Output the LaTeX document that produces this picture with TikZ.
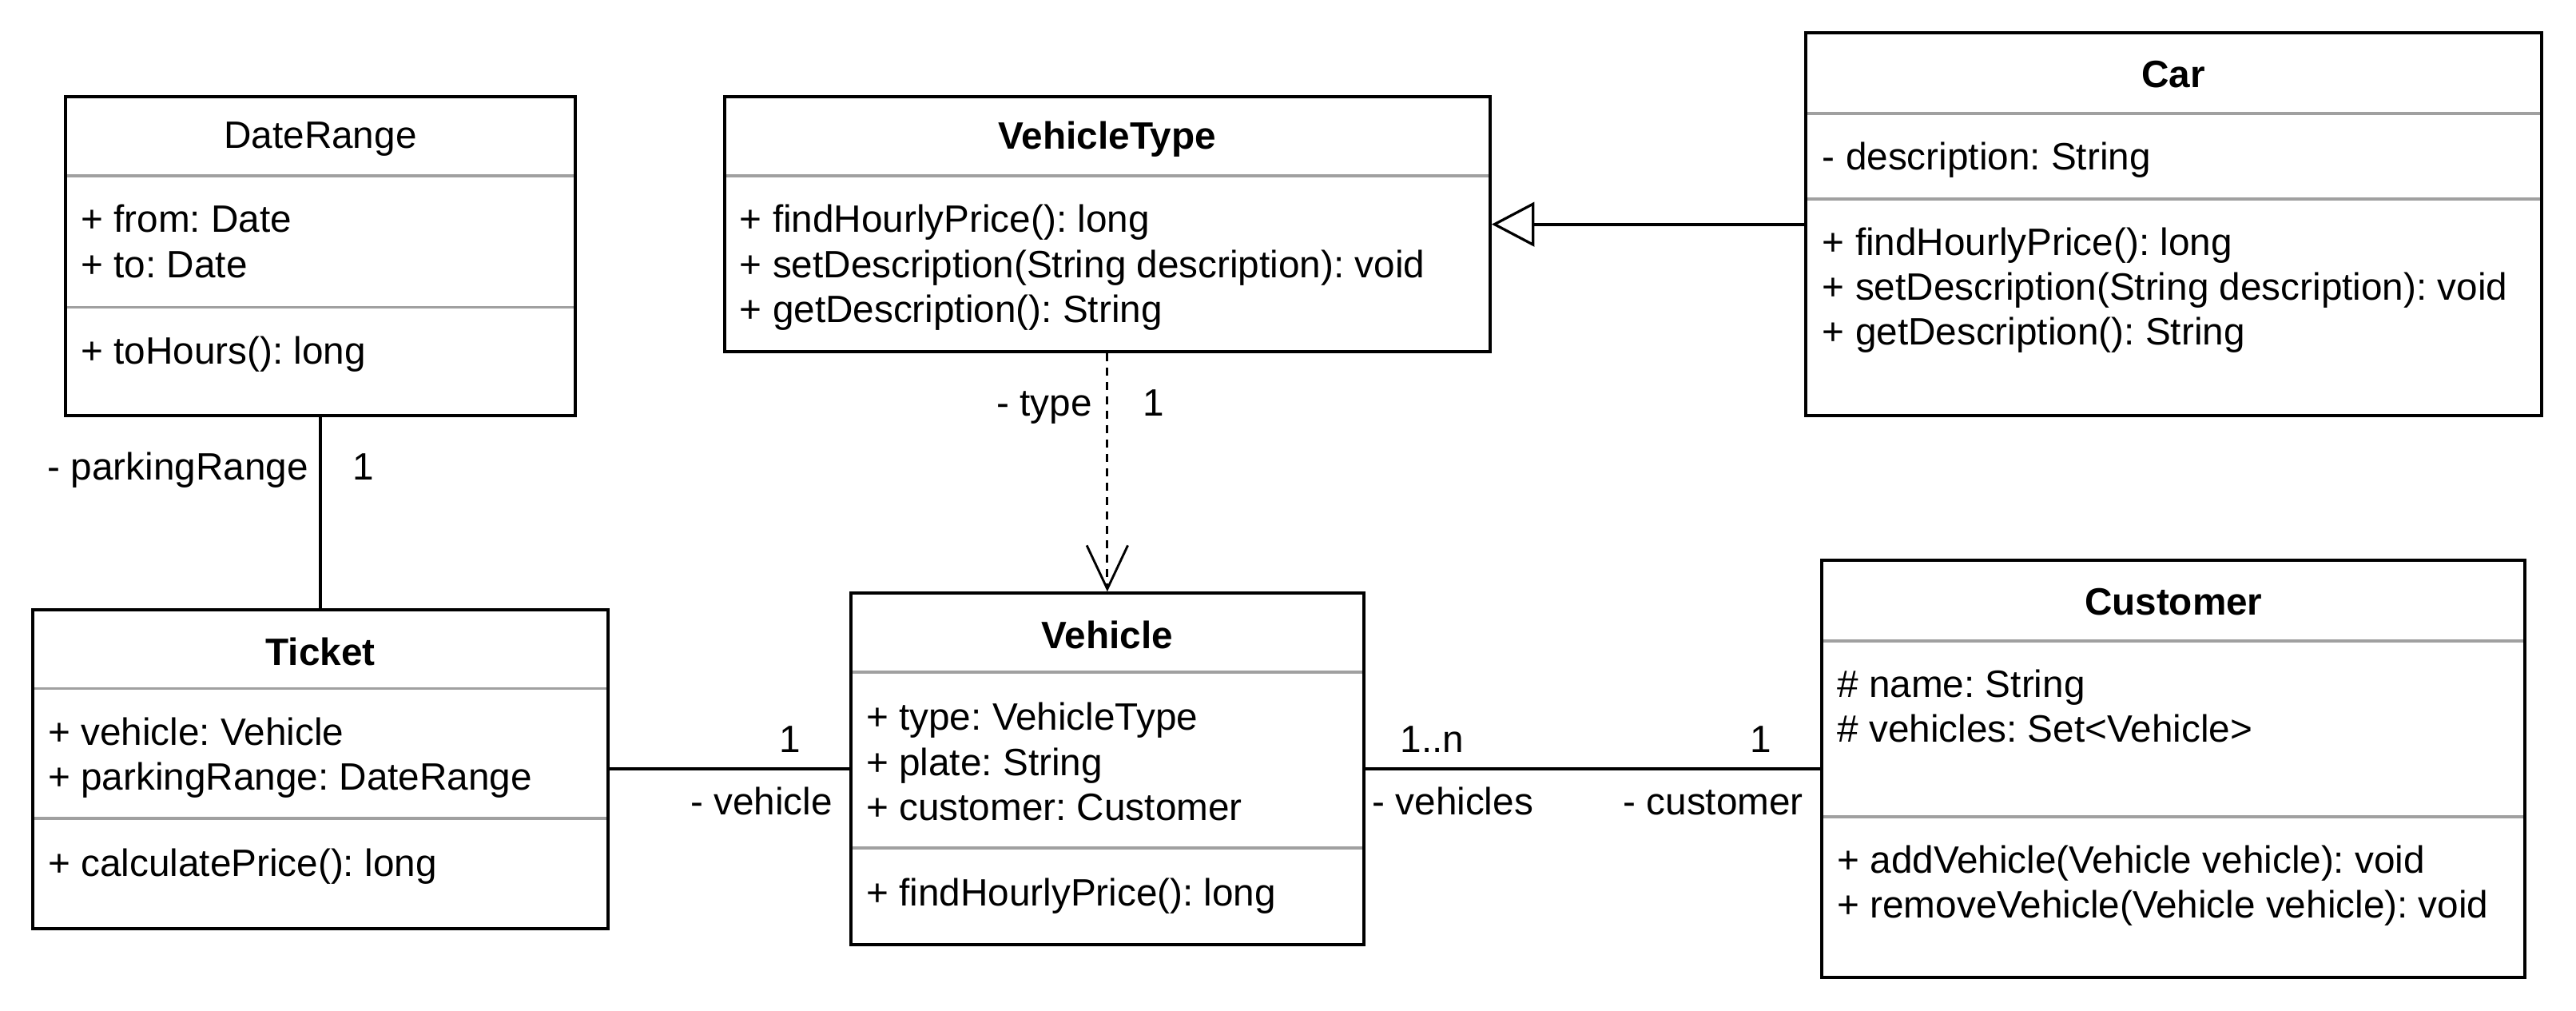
\documentclass[tikz,border=0pt]{standalone}
\usepackage{fontspec}
\setmainfont{Liberation Sans}
\usepackage{xcolor}
\usepackage{tikz}
\usetikzlibrary{arrows.meta, positioning, fit}
\definecolor{sepgray}{HTML}{A0A0A0}
\newcommand{\umlfont}{\fontsize{13.2pt}{15.4pt}\selectfont}
\frenchspacing
\tikzset{
  classframe/.style={draw=black, line width=1.1pt, inner sep=0pt},
  sepline/.style={draw=sepgray, line width=1pt},
  classname/.style={inner sep=0pt, yshift=-0.07cm, font=\umlfont\bfseries},
  member/.style={anchor=west, inner sep=0pt, yshift=-0.08cm, text height=0.72em, text depth=0.21em, font=\umlfont},
  role/.style={inner sep=0pt, yshift=-0.07cm, text height=0.72em, text depth=0.21em, font=\umlfont},
  assoc/.style={draw=black, line width=1.1pt},
  depend/.style={draw=black, line width=0.8pt, dash pattern=on 0.1cm off 0.075cm,
    -{Straight Barb[length=0.53cm, width=0.5cm]}},
  inherit/.style={draw=black, line width=1.1pt,
    -{Triangle[open, length=0.52cm, width=0.54cm, line width=0.9pt]}},
}
% frame + title of one class: name, left, top, right, bottom, title
\newcommand{\umlclass}[6]{%
  \node[classframe, fit={(#2,#3) (#4,#5)}] (#1) {};
  \node[classname] at ({(#2+#4)/2},#3+22) {#6};
}
\newcommand{\umlsep}[3]{%
  \draw[sepline] (#1+1,#3) -- (#2-1,#3);
}
\newcommand{\members}[3]{%
  \foreach \txt [count=\k from 0] in {#3} {
    \node[member] at (#1,#2+\k*27.3) {\txt};
  }%
}
\begin{document}
\begin{tikzpicture}[x=0.02cm, y=-0.02cm]
  \useasboundingbox (0,0) rectangle (1568,615);

  % DateRange
  \umlclass{daterange}{40}{59}{350}{253}{\mdseries DateRange}
  \umlsep{40}{350}{107} \umlsep{40}{350}{187}
  \members{49}{133}{+ from: Date, + to: Date}
  \members{49}{213}{+ toHours(): long}

  % VehicleType
  \umlclass{vehicletype}{441}{59}{907}{214}{VehicleType}
  \umlsep{441}{907}{107}
  \members{450}{133}{+ findHourlyPrice(): long, + setDescription(String description): void, + getDescription(): String}

  % Car
  \umlclass{car}{1099}{20}{1547}{253}{Car}
  \umlsep{1099}{1547}{69} \umlsep{1099}{1547}{121}
  \members{1109}{95}{- description: String}
  \members{1109}{147}{+ findHourlyPrice(): long, + setDescription(String description): void, + getDescription(): String}

  % Ticket
  \umlclass{ticket}{20}{371}{370}{565}{Ticket}
  \umlsep{20}{370}{419} \umlsep{20}{370}{498}
  \members{29}{445}{+ vehicle: Vehicle, + parkingRange: DateRange}
  \members{29}{525}{+ calculatePrice(): long}

  % Vehicle
  \umlclass{vehicle}{518}{361}{830}{575}{Vehicle}
  \umlsep{518}{830}{409} \umlsep{518}{830}{516}
  \members{527}{436}{+ type: VehicleType, + plate: String, + customer: Customer}
  \members{527}{543}{+ findHourlyPrice(): long}

  % Customer
  \umlclass{customer}{1109}{341}{1537}{595}{Customer}
  \umlsep{1109}{1537}{390} \umlsep{1109}{1537}{497}
  \members{1118}{416}{\# name: String, \# vehicles: Set<Vehicle>}
  \members{1118}{523}{+ addVehicle(Vehicle vehicle): void, + removeVehicle(Vehicle vehicle): void}

  % connectors
  \draw[assoc] (daterange.south) -- (ticket.north);
  \draw[depend] (vehicletype.south) -- (vehicle.north);
  \draw[inherit] (car.west) -- (vehicletype.east);
  \draw[assoc] (ticket.east) -- (vehicle.west);
  \draw[assoc] (vehicle.east) -- (customer.west);

  % role names and multiplicities
  \node[role, anchor=east] (rangerole) at (188,284) {- parkingRange};
  \node[role] (rangemult) at (221,284) {1};
  \node[role, anchor=east] (typerole) at (665,245) {- type};
  \node[role] (typemult) at (702,245) {1};
  \node[role] (vehiclemult) at (481,450) {1};
  \node[role, anchor=east] (vehiclerole) at (507,488) {- vehicle};
  \node[role, anchor=west] (vehiclesmult) at (852,450) {1..n};
  \node[role, anchor=west] (vehiclesrole) at (835,488) {- vehicles};
  \node[role] (customermult) at (1072,450) {1};
  \node[role, anchor=east] (customerrole) at (1098,488) {- customer};
\end{tikzpicture}
\end{document}
